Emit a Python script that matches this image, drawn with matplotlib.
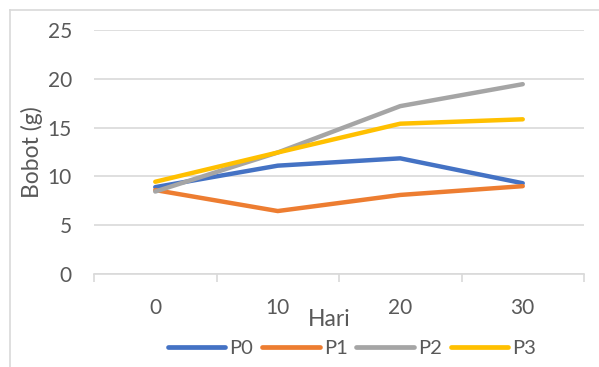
import matplotlib
matplotlib.use("Agg")
import matplotlib.pyplot as plt
from matplotlib.lines import Line2D

days = ["0", "10", "20", "30"]
p0 = [8.9, 11.1, 11.85, 9.3]
p1 = [8.6, 6.45, 8.1, 9.0]
p2 = [8.45, 12.45, 17.2, 19.45]
p3 = [9.45, 12.45, 15.4, 15.85]
series = {"P0": p0, "P1": p1, "P2": p2, "P3": p3}
colors = {"P0": "#4472C4", "P1": "#ED7D31", "P2": "#A5A5A5", "P3": "#FFC000"}
yticks = [0, 5, 10, 15, 20, 25]

TXT = "#595959"; GRID = "#D9D9D9"
plt.rcParams.update({"font.family": ["Lato", "DejaVu Sans"], "font.size": 15})

fig = plt.figure(figsize=(5.99, 3.67), dpi=100)
ax = fig.add_axes([94 / 599, 93 / 367, 490 / 599, 244 / 367])

x = list(range(len(days)))
for name, vals in series.items():
    ax.plot(x, vals, color=colors[name], lw=3.2, solid_capstyle="round",
            solid_joinstyle="round", label=name)

ax.set_xlim(-0.5, len(days) - 0.5)
ax.set_ylim(0, 25)
ax.set_yticks(yticks)
ax.set_xticks(x)
ax.set_xticklabels(days)
ax.set_xticks([i - 0.5 for i in range(len(days) + 1)], minor=True)
ax.yaxis.grid(True, color=GRID, lw=1.2)
ax.set_axisbelow(True)
for s in ["top", "right", "left"]:
    ax.spines[s].set_visible(False)
ax.spines["bottom"].set_color(GRID); ax.spines["bottom"].set_linewidth(1.2)
ax.tick_params(axis="y", length=0, pad=16, colors=TXT, labelsize=15)
ax.tick_params(axis="x", which="major", length=0, pad=17, colors=TXT, labelsize=15)
ax.tick_params(axis="x", which="minor", length=6, width=1.2, color=GRID)

ax.set_ylabel("Bobot (g)", color=TXT, fontsize=16.5)
ax.yaxis.set_label_coords(-0.104, 0.5)
ax.set_xlabel("Hari", color=TXT, fontsize=16.5)
ax.xaxis.set_label_coords(0.479, -0.145)

handles = [Line2D([], [], color=colors[n], lw=3.4, solid_capstyle="round") for n in series]
leg = fig.legend(handles, list(series), loc="center", bbox_to_anchor=(352 / 599, 1 - 348 / 367),
                 ncol=4, frameon=False, handlelength=2.85, handletextpad=0.2,
                 columnspacing=0.45, fontsize=14.5, borderpad=0)
for t in leg.get_texts():
    t.set_color(TXT)

# chart-area border (left and top visible)
fig.add_artist(Line2D([10 / 599, 10 / 599], [0, 1 - 10 / 367], color=GRID, lw=1.2))
fig.add_artist(Line2D([10 / 599, 1], [1 - 10 / 367, 1 - 10 / 367], color=GRID, lw=1.2))

fig.savefig("out.png", dpi=100)
